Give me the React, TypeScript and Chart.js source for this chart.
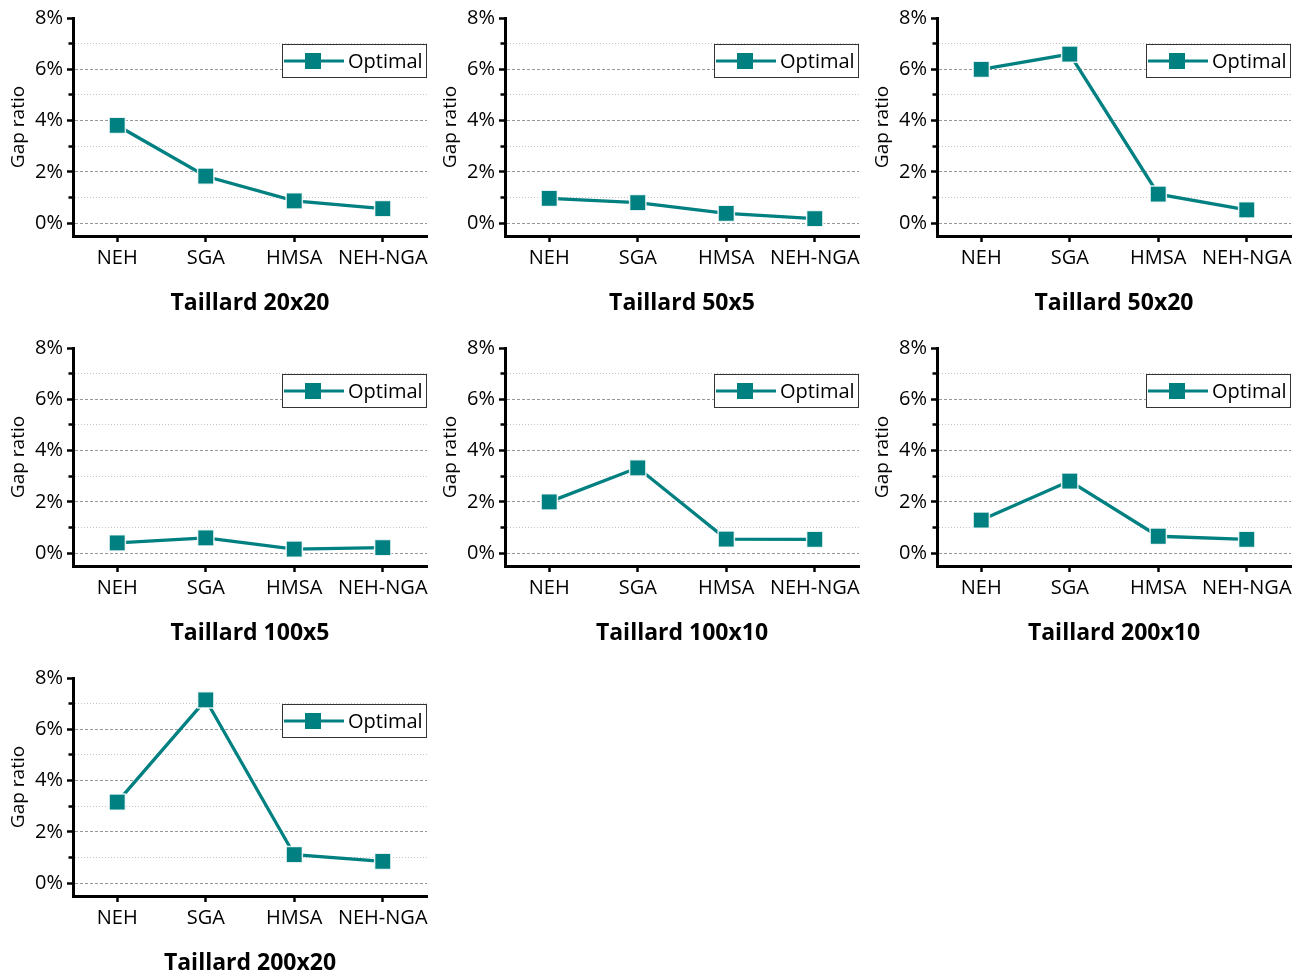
import React, { useEffect, useRef } from 'react';
import { Chart, registerables } from 'chart.js';

Chart.register(...registerables);

// ---- Data ----
const categories = ['NEH', 'SGA', 'HMSA', 'NEH-NGA'];
const seriesLabel = 'Optimal';
const yAxisTitle = 'Gap ratio';
const yTickValues = [0, 1, 2, 3, 4, 5, 6, 7, 8];

const taillard20x20 = [3.81, 1.83, 0.87, 0.57];
const taillard50x5 = [0.97, 0.8, 0.38, 0.18];
const taillard50x20 = [6.0, 6.59, 1.13, 0.52];
const taillard100x5 = [0.4, 0.6, 0.16, 0.22];
const taillard100x10 = [2.0, 3.33, 0.55, 0.54];
const taillard200x10 = [1.29, 2.81, 0.66, 0.54];
const taillard200x20 = [3.16, 7.15, 1.11, 0.85];

const panelTitles = [
  'Taillard 20x20',
  'Taillard 50x5',
  'Taillard 50x20',
  'Taillard 100x5',
  'Taillard 100x10',
  'Taillard 200x10',
  'Taillard 200x20',
];
const panelValues = [
  taillard20x20,
  taillard50x5,
  taillard50x20,
  taillard100x5,
  taillard100x10,
  taillard200x10,
  taillard200x20,
];

// ---- Style ----
const TEAL = '#008080';
const FONT = "'Open Sans', sans-serif";
const PANEL_W = 432;
const PANEL_H = 330;

const boxLegend = {
  id: 'boxLegend',
  afterDraw(chart: any) {
    const { ctx, chartArea } = chart;
    const ds = chart.data.datasets[0];
    const w = 145;
    const h = 34;
    const left = Math.round(chartArea.right) - w;
    const top = Math.round(chartArea.top) + 26;
    ctx.save();
    ctx.fillStyle = '#ffffff';
    ctx.fillRect(left, top, w, h);
    ctx.strokeStyle = '#333333';
    ctx.lineWidth = 1;
    ctx.strokeRect(left + 0.5, top + 0.5, w - 1, h - 1);
    const cy = top + h / 2;
    ctx.strokeStyle = ds.borderColor;
    ctx.lineWidth = 3;
    ctx.beginPath();
    ctx.moveTo(left + 2, cy);
    ctx.lineTo(left + 62, cy);
    ctx.stroke();
    ctx.fillStyle = ds.pointBackgroundColor;
    ctx.fillRect(left + 31 - 8, cy - 8, 16, 16);
    ctx.fillStyle = '#000000';
    ctx.font = `20px ${FONT}`;
    ctx.textBaseline = 'middle';
    ctx.textAlign = 'left';
    ctx.fillText(ds.label, left + 66, cy + 1);
    ctx.restore();
  },
};

function Panel({ title, values, left, top }: { title: string; values: number[]; left: number; top: number }) {
  const ref = useRef<HTMLCanvasElement | null>(null);

  useEffect(() => {
    if (!ref.current) return;
    const isMajor = (c: any) => c.tick && c.tick.value % 2 === 0;
    const chart = new Chart(ref.current, {
      type: 'line',
      data: {
        labels: categories,
        datasets: [
          {
            label: seriesLabel,
            data: values,
            borderColor: TEAL,
            backgroundColor: TEAL,
            borderWidth: 3.3,
            pointStyle: 'rect',
            pointRadius: 11.5,
            pointHoverRadius: 11.5,
            pointBackgroundColor: TEAL,
            pointBorderColor: 'rgba(255,255,255,0.85)',
            pointBorderWidth: 1.5,
            tension: 0,
            clip: false as any,
          },
        ],
      },
      options: {
        responsive: false,
        animation: false,
        events: [],
        layout: { autoPadding: false, padding: { top: 18, right: 5, left: 0, bottom: 0 } },
        plugins: {
          legend: { display: false },
          tooltip: { enabled: false },
          title: { display: false },
        },
        scales: {
          x: {
            type: 'category',
            offset: true,
            afterFit: (s: any) => {
              s.height = 94;
              s.paddingLeft = 0;
              s.paddingRight = 0;
            },
            ticks: {
              font: { family: FONT, size: 20 },
              color: '#000000',
              padding: 4,
              maxRotation: 0,
              autoSkip: false,
            },
            grid: {
              display: true,
              drawOnChartArea: false,
              offset: false,
              tickColor: '#000000',
              tickWidth: 2.5,
              tickLength: 6,
            },
            border: { display: true, color: '#000000', width: 3 },
            title: {
              display: true,
              text: title,
              font: { family: FONT, size: 23, weight: 'bold' },
              color: '#000000',
              padding: { top: 0, bottom: 13 },
            },
          },
          y: {
            type: 'linear',
            min: -0.5,
            max: 8,
            afterBuildTicks: (s: any) => {
              s.ticks = yTickValues.map((v) => ({ value: v }));
            },
            afterFit: (s: any) => {
              s.width = 73;
            },
            ticks: {
              callback: (v: any) => (Number(v) % 2 === 0 ? `${v}%` : ''),
              font: { family: FONT, size: 20 },
              color: '#000000',
              padding: 4,
              autoSkip: false,
            },
            grid: {
              display: true,
              drawOnChartArea: true,
              color: (c: any) =>
                c.tick && c.tick.value === 8
                  ? 'rgba(0,0,0,0)'
                  : isMajor(c)
                  ? '#999999'
                  : '#c4c4c4',
              lineWidth: 1,
              tickColor: '#000000',
              tickWidth: 2.5,
              tickLength: 6,
              tickBorderDash: (c: any) => (c.tick && c.tick.value % 2 !== 0 ? [0, 1.5, 20] : []),
            },
            border: {
              display: true,
              color: '#000000',
              width: 3,
              dash: (c: any) => (c.tick ? (isMajor(c) ? [3, 2] : [1, 2]) : []),
            },
            title: {
              display: true,
              text: yAxisTitle,
              font: { family: FONT, size: 19 },
              color: '#000000',
              padding: { top: 7, bottom: 0 },
            },
          },
        },
      } as any,
      plugins: [boxLegend],
    });
    return () => chart.destroy();
  }, [title, values]);

  return (
    <canvas
      ref={ref}
      width={PANEL_W}
      height={PANEL_H}
      style={{ position: 'absolute', left, top, width: PANEL_W, height: PANEL_H, display: 'block' }}
    />
  );
}

export default function App() {
  return (
    <div
      style={{
        position: 'absolute',
        left: 0,
        top: 0,
        width: 1306,
        height: 975,
        overflow: 'hidden',
        background: '#ffffff',
      }}
    >
      {panelTitles.map((t, i) => (
        <Panel
          key={t}
          title={t}
          values={panelValues[i]}
          left={(i % 3) * PANEL_W}
          top={Math.floor(i / 3) * PANEL_H}
        />
      ))}
    </div>
  );
}
